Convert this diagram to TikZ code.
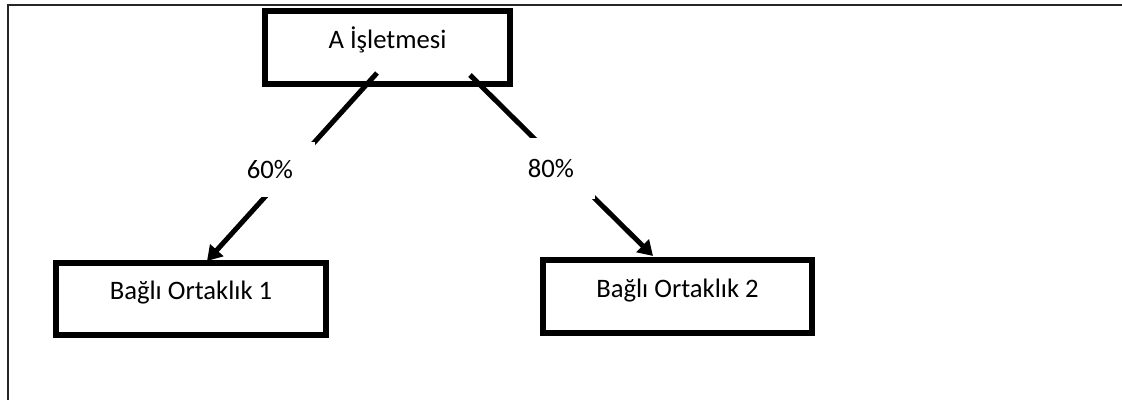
\documentclass[tikz,border=0pt]{standalone}
\usepackage{fontspec}
\setmainfont{Carlito}
\usetikzlibrary{arrows.meta}
\begin{document}
\begin{tikzpicture}[x=0.75pt,y=-0.75pt,
  every node/.style={font=\fontsize{20}{24}\selectfont},
  entity/.style={draw=black, line width=4.5pt, fill=white, inner sep=0pt,
    text height=0.7em, text depth=0.62em},
  link/.style={line width=3.75pt, -{Triangle[length=11pt,width=13pt]}},
  pct/.style={fill=white, inner sep=0pt}]
\useasboundingbox (0,0) rectangle (1122,400);
% outer frame (top and left edges)
\draw[line width=1.6pt, black!85] (8,400) -- (8,5) -- (1122,5);
% boxes
\node[entity, minimum width=183.75pt, minimum height=54.75pt] (A) at (387.5,47.5) {A İşletmesi};
\node[entity, minimum width=202.5pt, minimum height=54pt] (B1) at (191,299) {Bağlı Ortaklık 1};
\node[entity, minimum width=201.75pt, minimum height=54.75pt] (B2) at (677.5,296.5) {Bağlı Ortaklık 2};
% connector end points
\coordinate (s1) at (377,73);
\coordinate (t1) at (207,261);
\coordinate (s2) at (470,75);
\coordinate (t2) at (653,256);
\draw[link] (s1) -- (t1);
\draw[link] (s2) -- (t2);
% labels masking the connectors
\node[pct, minimum width=67.5pt, minimum height=41.25pt] (p1) at (270,169.5) {60\%};
\node[pct, minimum width=66pt, minimum height=45.75pt] (p2) at (551,168.5) {80\%};
\end{tikzpicture}
\end{document}
